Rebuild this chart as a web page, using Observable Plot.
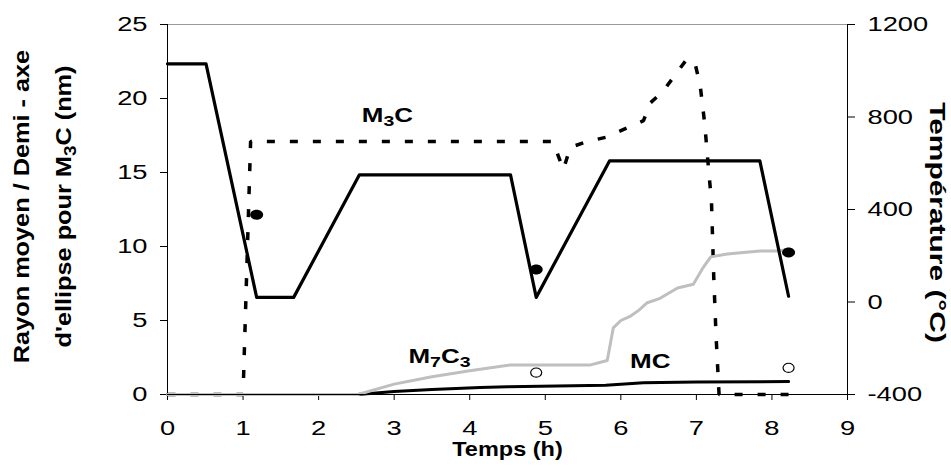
<!DOCTYPE html>
<html><head><meta charset="utf-8">
<script src="https://cdn.jsdelivr.net/npm/d3@7"></script>
<script src="https://cdn.jsdelivr.net/npm/@observablehq/plot@0.6"></script>
<style>body{margin:0;background:#fff} svg{display:block}</style>
</head><body><div id="chart"></div>
<script>
// ---- tick labels ----
const xTicks = [0, 1, 2, 3, 4, 5, 6, 7, 8, 9];
const yTicks = [0, 5, 10, 15, 20, 25];
const tempTicks = [-400, 0, 400, 800, 1200];

// ---- temperature (°C) vs time (h) ----
const tempTime  = [0, 0.51, 1.18, 1.67, 2.54, 4.54, 4.88, 5.85, 7.84, 8.22];
const tempValue = [1030, 1030, 20, 20, 550, 550, 20, 610, 610, 25];

// ---- M3C half-axis (nm) ----
const m3cTime  = [0, 1.0, 1.1, 5.1, 5.24, 5.33, 5.56, 5.82, 6.03, 6.3, 6.39, 6.56, 6.72, 6.88, 6.99, 7.05, 7.11, 7.15, 7.2, 7.23, 7.26, 7.3, 8.22];
const m3cValue = [0, 0, 17.1, 17.1, 15.2, 16.7, 17.1, 17.4, 17.9, 18.5, 19.7, 20.5, 21.6, 22.7, 22.2, 20.9, 18.3, 15.9, 13, 7.9, 4, 0, 0];

// ---- M7C3 mean radius (nm) ----
const m7c3Time  = [0, 2.52, 3.0, 3.5, 4.0, 4.54, 5.6, 5.82, 5.9, 6.0, 6.13, 6.24, 6.35, 6.52, 6.75, 6.96, 7.08, 7.19, 7.41, 7.62, 7.85, 8.07, 8.22];
const m7c3Value = [0, 0, 0.7, 1.2, 1.6, 2.0, 2.0, 2.3, 4.5, 5.0, 5.3, 5.7, 6.2, 6.5, 7.2, 7.45, 8.5, 9.3, 9.5, 9.6, 9.7, 9.7, 9.8];

// ---- MC mean radius (nm) ----
const mcTime  = [0, 2.52, 3.0, 3.5, 4.14, 4.5, 5.8, 6.3, 7.0, 8.22];
const mcValue = [0, 0, 0.2, 0.33, 0.47, 0.52, 0.62, 0.8, 0.85, 0.87];

// ---- experimental points ----
const filledTime  = [1.18, 4.88, 8.22];
const filledValue = [12.15, 8.45, 9.6];
const openTime  = [4.88, 8.22];
const openValue = [1.48, 1.8];

// ---- series labels ----
const labelText = ["M₃C", "M₇C₃", "MC"];
const labelTime = [2.91, 3.6, 6.39];
const labelValue = [18.85, 2.57, 2.23];

// temperature -> left-axis units (axes aligned: -400→0, 1200→25)
const toL = t => (t + 400) / 64;
const zip = (xs, ys) => xs.map((t, i) => ({t, v: ys[i]}));

const temp = tempTime.map((t, i) => ({t, v: toL(tempValue[i])}));
const m3c = zip(m3cTime, m3cValue);
const m7c3 = zip(m7c3Time, m7c3Value);
const mc = zip(mcTime, mcValue);
const filled = zip(filledTime, filledValue);
const open = zip(openTime, openValue);
const labels = labelText.map((s, i) => ({s, t: labelTime[i], v: labelValue[i]}));

// slightly wide ellipse symbol (reference markers are oval)
const ellipse = sx => ({draw(ctx, size) {
  const ry = Math.sqrt(size / Math.PI), rx = ry * sx, k = 0.5523;
  ctx.moveTo(rx, 0);
  ctx.bezierCurveTo(rx, k * ry, k * rx, ry, 0, ry);
  ctx.bezierCurveTo(-k * rx, ry, -rx, k * ry, -rx, 0);
  ctx.bezierCurveTo(-rx, -k * ry, -k * rx, -ry, 0, -ry);
  ctx.bezierCurveTo(k * rx, -ry, rx, -k * ry, rx, 0);
  ctx.closePath();
}});

const chart = Plot.plot({
  width: 951, height: 467,
  marginLeft: 167, marginRight: 104, marginTop: 24, marginBottom: 73,
  style: {fontFamily: "'Liberation Sans', Arial, sans-serif", fontSize: "21px", background: "#fff", color: "#000", overflow: "visible"},
  x: {domain: [0, 9]},
  y: {domain: [0, 25]},
  marks: [
    Plot.ruleY([25], {stroke: "#999", strokeWidth: 1}),
    Plot.axisX(xTicks, {tickSize: 6, tickPadding: 20, label: null}),
    Plot.axisY(yTicks, {anchor: "left", tickSize: 7, tickPadding: 13, label: null}),
    Plot.axisY(tempTicks.map(toL), {anchor: "right", tickSize: 7, tickPadding: 13, label: null,
      tickFormat: d => String(Math.round(d * 64 - 400))}),
    Plot.ruleX([0], {stroke: "#000"}),
    Plot.ruleX([9], {stroke: "#000"}),
    Plot.line(m3c, {x: "t", y: "v", stroke: "#000", strokeWidth: 3.5, strokeDasharray: "8,15", strokeLinecap: "butt", strokeLinejoin: "miter"}),
    Plot.line(mc, {x: "t", y: "v", stroke: "#000", strokeWidth: 3}),
    Plot.line(m7c3, {x: "t", y: "v", stroke: "#bfbfbf", strokeWidth: 3}),
    Plot.ruleY([0], {stroke: "#000"}),
    Plot.line(temp, {x: "t", y: "v", stroke: "#000", strokeWidth: 3.2}),
    Plot.dot(filled, {x: "t", y: "v", r: 5, symbol: ellipse(1.3), fill: "#000", stroke: "none"}),
    Plot.dot(open, {x: "t", y: "v", r: 4.6, symbol: ellipse(1.2), fill: "#fff", stroke: "#000", strokeWidth: 1.2}),
    Plot.text(labels, {x: "t", y: "v", text: "s", fontWeight: "bold", fontSize: 20, lineAnchor: "middle"}),
    Plot.text(["Temps (h)"], {frameAnchor: "bottom", dy: 55, lineAnchor: "middle", fontWeight: "bold", fontSize: 21}),
    Plot.text(["Rayon moyen / Demi - axe\nd'ellipse pour M₃C (nm)"], {frameAnchor: "left", dx: -131, dy: -3, rotate: -90,
      textAnchor: "middle", lineAnchor: "middle", lineHeight: 1.9, fontWeight: "bold", fontSize: 22}),
    Plot.text(["Température (°C)"], {frameAnchor: "right", dx: 90, dy: 13, rotate: 90,
      textAnchor: "middle", lineAnchor: "middle", fontWeight: "bold", fontSize: 22})
  ]
});

// ---- typographic post-processing: horizontal stretch and real subscripts ----
function stretch(el, sx) {
  const tr = el.getAttribute("transform") || "";
  el.setAttribute("transform", tr + ` scale(${sx},1)`);
}
const SUB = {"₃": "3", "₇": "7"};
const NS = "http://www.w3.org/2000/svg";
function subscriptify(node, fs) {
  const s = node.textContent;
  if (!/[₃₇]/.test(s)) return;
  const segs = [];
  for (const ch of s) {
    const sub = ch in SUB;
    const c = sub ? SUB[ch] : ch;
    if (segs.length && segs[segs.length - 1].sub === sub) segs[segs.length - 1].text += c;
    else segs.push({text: c, sub});
  }
  node.textContent = "";
  const shift = fs * 0.22;
  let prevSub = false;
  for (const seg of segs) {
    const t = document.createElementNS(NS, "tspan");
    t.textContent = seg.text;
    if (seg.sub) { t.setAttribute("font-size", fs * 0.75); t.setAttribute("dy", shift); }
    else if (prevSub) t.setAttribute("dy", -shift);
    node.appendChild(t);
    prevSub = seg.sub;
  }
}
chart.querySelectorAll('g[aria-label$="tick label"] text').forEach(t => stretch(t, 1.3));
chart.querySelectorAll('g[aria-label="text"] text').forEach(t => {
  const s = t.textContent;
  if (s.startsWith("Temps")) stretch(t, 1.12);
  else if (s.startsWith("Rayon")) { stretch(t, 1.15); t.querySelectorAll("tspan").forEach(sp => subscriptify(sp, 22)); }
  else if (s.startsWith("Temp")) stretch(t, 1.36);
  else { stretch(t, 1.3); subscriptify(t, 20); }
});
document.getElementById("chart").append(chart);
</script>
</body></html>
